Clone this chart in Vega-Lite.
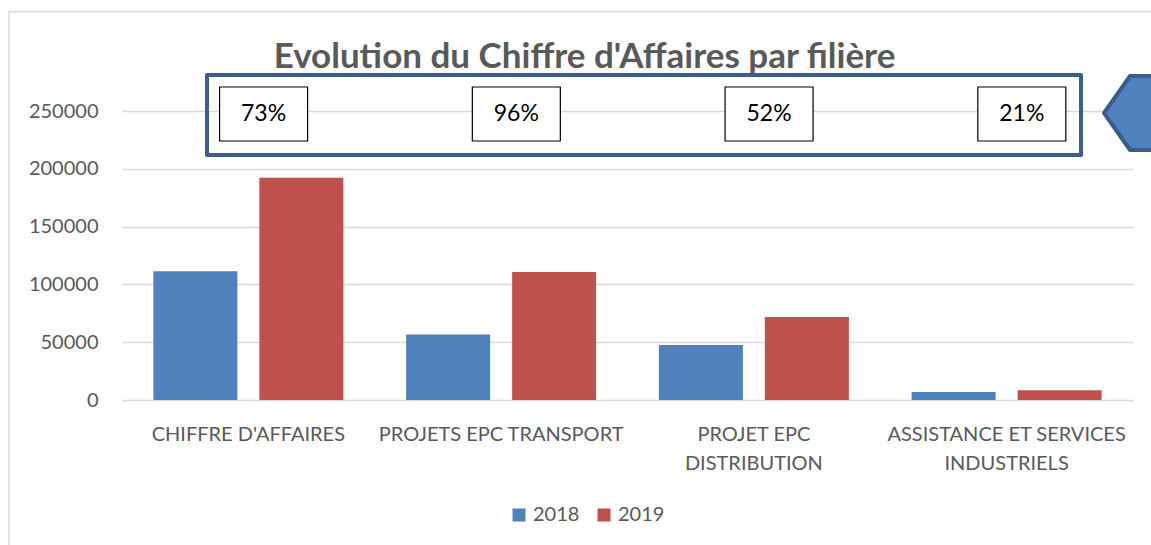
{
  "$schema": "https://vega.github.io/schema/vega-lite/v6.json",
  "autosize": {"type": "none"},
  "width": 1011,
  "height": 289,
  "padding": {"left": 122, "top": 111, "right": 18, "bottom": 145},
  "background": "white",
  "config": {
    "font": "Lato",
    "view": {"stroke": null},
    "axis": {"labelFont": "Lato", "labelColor": "#595959", "labelFontSize": 20, "ticks": false, "tickSize": 0, "domain": false},
    "legend": {"labelFont": "Lato", "labelColor": "#595959", "labelFontSize": 20}
  },
  "title": {
    "text": "Evolution du Chiffre d'Affaires par filière",
    "font": "Lato",
    "fontSize": 35,
    "fontWeight": "bold",
    "color": "#595959",
    "anchor": "middle",
    "baseline": "alphabetic",
    "dx": -43,
    "dy": 98
  },
  "datasets": {
    "ca": [
      {"cat": "CHIFFRE D'AFFAIRES", "year": "2018", "value": 111400},
      {"cat": "CHIFFRE D'AFFAIRES", "year": "2019", "value": 192200},
      {"cat": "PROJETS EPC TRANSPORT", "year": "2018", "value": 56700},
      {"cat": "PROJETS EPC TRANSPORT", "year": "2019", "value": 110800},
      {"cat": "PROJET EPC DISTRIBUTION", "year": "2018", "value": 47500},
      {"cat": "PROJET EPC DISTRIBUTION", "year": "2019", "value": 71800},
      {"cat": "ASSISTANCE ET SERVICES INDUSTRIELS", "year": "2018", "value": 6900},
      {"cat": "ASSISTANCE ET SERVICES INDUSTRIELS", "year": "2019", "value": 8500}
    ],
    "pct": [
      {"cat": "CHIFFRE D'AFFAIRES", "label": "73%"},
      {"cat": "PROJETS EPC TRANSPORT", "label": "96%"},
      {"cat": "PROJET EPC DISTRIBUTION", "label": "52%"},
      {"cat": "ASSISTANCE ET SERVICES INDUSTRIELS", "label": "21%"}
    ],
    "one": [{}]
  },
  "layer": [
    {
      "data": {"name": "ca"},
      "mark": {"type": "bar", "opacity": 1},
      "encoding": {
        "x": {
          "field": "cat", "type": "nominal", "sort": null, "title": null,
          "scale": {"domain": ["CHIFFRE D'AFFAIRES", "PROJETS EPC TRANSPORT", "PROJET EPC DISTRIBUTION", "ASSISTANCE ET SERVICES INDUSTRIELS"], "paddingInner": 0.2483, "paddingOuter": 0.1242},
          "axis": {
            "labelAngle": 0,
            "labelAlign": "center",
            "labelBaseline": "top",
            "labelPadding": 24,
            "labelLineHeight": 29,
            "labelLimit": 0,
            "labelExpr": "datum.value == 'PROJET EPC DISTRIBUTION' ? ['PROJET EPC', 'DISTRIBUTION'] : datum.value == 'ASSISTANCE ET SERVICES INDUSTRIELS' ? ['ASSISTANCE ET SERVICES', 'INDUSTRIELS'] : datum.value"
          }
        },
        "xOffset": {"field": "year", "type": "nominal", "scale": {"paddingInner": 0.2075, "paddingOuter": 0}},
        "y": {
          "field": "value", "type": "quantitative", "title": null,
          "scale": {"domain": [0, 250000], "nice": false},
          "axis": {"values": [0, 50000, 100000, 150000, 200000, 250000], "format": "d", "labelPadding": 24, "grid": true, "gridColor": "#d9d9d9", "gridWidth": 1.5}
        },
        "color": {
          "field": "year", "type": "nominal", "title": null,
          "scale": {"domain": ["2018", "2019"], "range": ["#4F81BD", "#C0504D"]},
          "legend": {"orient": "none", "legendX": 387, "legendY": 394, "direction": "horizontal", "symbolType": "square", "symbolSize": 169, "symbolStrokeWidth": 0, "labelOffset": 4, "columnPadding": 14, "padding": 0}
        }
      }
    },
    {
      "data": {"name": "one"},
      "mark": {"type": "point", "shape": "M-1,2L-1,-0.4873L2,-0.4873", "size": 1397124, "filled": false, "stroke": "#d9d9d9", "strokeWidth": 1.5, "opacity": 1},
      "encoding": {
        "x": {"datum": "PROJETS EPC TRANSPORT", "type": "nominal", "bandPosition": 1.0203},
        "y": {"datum": 86673, "type": "quantitative"}
      }
    },
    {
      "data": {"name": "one"},
      "mark": {"type": "point", "shape": "M-1,-0.0915L1,-0.0915L1,0.0915L-1,0.0915Z", "size": 763876, "filled": false, "stroke": "#3A5F8E", "strokeWidth": 4, "strokeJoin": "round", "opacity": 1},
      "encoding": {
        "x": {"datum": "PROJETS EPC TRANSPORT", "type": "nominal", "bandPosition": 1.252},
        "y": {"datum": 246543, "type": "quantitative"}
      }
    },
    {
      "data": {"name": "pct"},
      "mark": {"type": "point", "shape": "M-1,-0.614L1,-0.614L1,0.614L-1,0.614Z", "size": 7744, "filled": true, "fill": "white", "stroke": "black", "strokeWidth": 1.2, "opacity": 1},
      "encoding": {
        "x": {"field": "cat", "type": "nominal", "sort": null, "bandPosition": 0.58},
        "y": {"datum": 247400, "type": "quantitative"}
      }
    },
    {
      "data": {"name": "pct"},
      "mark": {"type": "text", "font": "Lato", "fontSize": 23, "color": "black", "baseline": "middle", "align": "center"},
      "encoding": {
        "x": {"field": "cat", "type": "nominal", "sort": null, "bandPosition": 0.58},
        "y": {"datum": 247400, "type": "quantitative"},
        "text": {"field": "label"}
      }
    },
    {
      "data": {"name": "one"},
      "mark": {"type": "point", "shape": "M-1,0L-0.435,-0.804L1,-0.804L1,0.804L-0.435,0.804Z", "size": 8464, "filled": true, "fill": "#4F81BD", "stroke": "#385D8A", "strokeWidth": 4, "strokeJoin": "round", "opacity": 1},
      "encoding": {
        "x": {"datum": "ASSISTANCE ET SERVICES INDUSTRIELS", "type": "nominal", "bandPosition": 1.255},
        "y": {"datum": 248270, "type": "quantitative"}
      }
    }
  ]
}
